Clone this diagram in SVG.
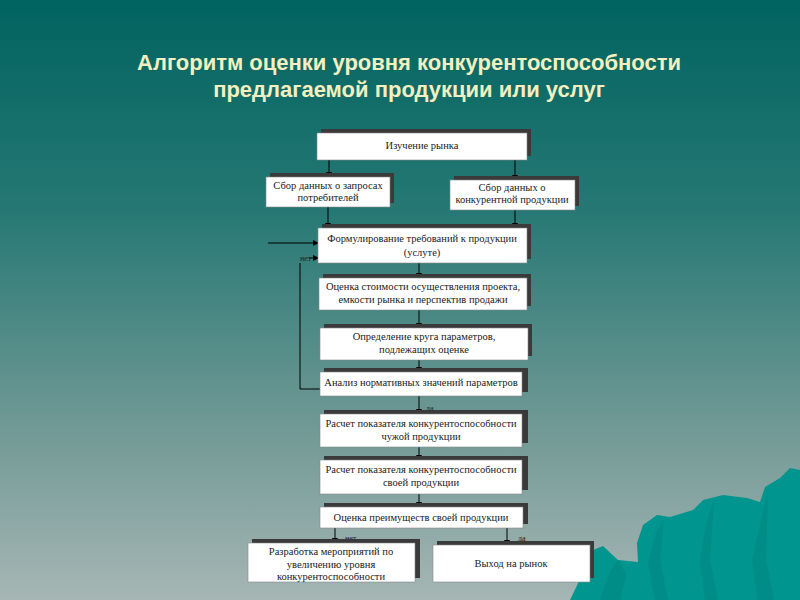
<svg xmlns="http://www.w3.org/2000/svg" width="800" height="600" viewBox="0 0 800 600">
<defs>
<linearGradient id="bg" x1="0" y1="0" x2="0" y2="1">
<stop offset="0" stop-color="#00635f"/>
<stop offset="0.35" stop-color="#267874"/>
<stop offset="0.7" stop-color="#6e9894"/>
<stop offset="1" stop-color="#a6b6b4"/>
</linearGradient>
<marker id="ah" markerWidth="6" markerHeight="6" refX="5" refY="3" orient="auto" markerUnits="userSpaceOnUse">
<path d="M0,0 L6,3 L0,6 Z" fill="#000"/>
</marker>
<style>
.sh{fill:#3a3a3a}
.bx{fill:#fff;stroke:#888;stroke-width:0.6}
.t{font-family:"Liberation Serif","Times New Roman",serif;font-size:10.5px;fill:#222;text-anchor:middle}
.ttl{font-family:"Liberation Sans",Arial,sans-serif;font-weight:bold;font-size:22px;fill:#f3efbf;text-anchor:middle}
.c{stroke:#000;stroke-width:1;fill:none}
.ca{stroke:#000;stroke-width:1;fill:none;marker-end:url(#ah)}
.lb{font-family:"Liberation Serif",serif;font-size:8px;fill:#222}
</style>
</defs>
<rect width="800" height="600" fill="url(#bg)"/>
<g id="mountain">
<path d="M570,600 L582,575 L593,550 L603,546 L618,560 L638,562 L637,543 L643,525 L657,515 L670,517 L693,510 L703,500 L723,495 L747,498 L760,502 L765,487 L780,478 L790,468 L800,470 L800,600 Z" fill="#00958f"/>
<path d="M600,600 L610,572 L618,560 L626,575 L620,600 Z M655,600 L648,565 L655,535 L664,518 L660,560 L668,600 Z M705,600 L700,560 L706,525 L714,500 L710,560 L718,600 Z M758,600 L752,560 L760,525 L768,490 L766,560 L774,600 Z" fill="#008a85" opacity="0.8"/>
</g>
<g id="title">
<text class="ttl" x="409" y="70">Алгоритм оценки уровня конкурентоспособности</text>
<text class="ttl" x="409" y="97">предлагаемой продукции или услуг</text>
</g>
<g id="connectors">
<line class="ca" x1="329" y1="160" x2="329" y2="177"/>
<line class="ca" x1="515" y1="160" x2="515" y2="180"/>
<line class="ca" x1="328" y1="207" x2="328" y2="228"/>
<line class="ca" x1="515" y1="210" x2="515" y2="228"/>
<line class="ca" x1="268" y1="243" x2="318" y2="243"/>
<polyline class="c" points="320,389 300,389 300,263"/>
<line class="ca" x1="309" y1="258" x2="318" y2="258"/>
<line class="ca" x1="419" y1="263" x2="419" y2="278"/>
<line class="ca" x1="419" y1="310" x2="419" y2="328"/>
<line class="ca" x1="419" y1="360" x2="419" y2="372"/>
<line class="ca" x1="419" y1="396" x2="419" y2="414"/>
<line class="ca" x1="419" y1="447" x2="419" y2="460"/>
<line class="ca" x1="419" y1="494" x2="419" y2="507"/>
<line class="ca" x1="335" y1="528" x2="335" y2="543"/>
<line class="ca" x1="507" y1="528" x2="507" y2="545"/>
<text class="lb" x="300" y="261">нет</text>
<text class="lb" x="426" y="411">да</text>
<text class="lb" x="345" y="541">нет</text>
<text class="lb" x="518" y="541">да</text>
</g>
<g id="n1"><rect class="sh" x="321" y="129" width="210" height="27"/><rect class="bx" x="317" y="133" width="210" height="27"/><text class="t" x="422" y="149">Изучение рынка</text></g>
<g id="n2"><rect class="sh" x="270" y="173" width="124" height="30"/><rect class="bx" x="266" y="177" width="124" height="30"/><text class="t" x="328" y="189">Сбор данных о запросах</text><text class="t" x="328" y="201">потребителей</text></g>
<g id="n3"><rect class="sh" x="454" y="176" width="125" height="30"/><rect class="bx" x="450" y="180" width="125" height="30"/><text class="t" x="512" y="191">Сбор данных о</text><text class="t" x="512" y="203">конкурентной продукции</text></g>
<g id="n4"><rect class="sh" x="322" y="224" width="209" height="35"/><rect class="bx" x="318" y="228" width="209" height="35"/><text class="t" x="422" y="242">Формулирование требований к продукции</text><text class="t" x="422" y="256">(услуте)</text></g>
<g id="n5"><rect class="sh" x="323" y="274" width="208" height="32"/><rect class="bx" x="319" y="278" width="208" height="32"/><text class="t" x="423" y="290">Оценка стоимости осуществления проекта,</text><text class="t" x="423" y="303">емкости рынка и перспектив продажи</text></g>
<g id="n6"><rect class="sh" x="324" y="324" width="208" height="32"/><rect class="bx" x="320" y="328" width="208" height="32"/><text class="t" x="424" y="340">Определение круга параметров,</text><text class="t" x="424" y="353">подлежащих оценке</text></g>
<g id="n7"><rect class="sh" x="324" y="368" width="204" height="24"/><rect class="bx" x="320" y="372" width="202" height="24"/><text class="t" x="421" y="386">Анализ нормативных значений параметров</text></g>
<g id="n8"><rect class="sh" x="324" y="410" width="204" height="33"/><rect class="bx" x="320" y="414" width="202" height="33"/><text class="t" x="421" y="427">Расчет показателя конкурентоспособности</text><text class="t" x="421" y="440">чужой продукции</text></g>
<g id="n9"><rect class="sh" x="324" y="456" width="204" height="34"/><rect class="bx" x="320" y="460" width="202" height="34"/><text class="t" x="421" y="473">Расчет показателя конкурентоспособности</text><text class="t" x="421" y="486">своей продукции</text></g>
<g id="n10"><rect class="sh" x="324" y="503" width="204" height="21"/><rect class="bx" x="320" y="507" width="203" height="21"/><text class="t" x="421" y="521">Оценка преимуществ своей продукции</text></g>
<g id="n11"><rect class="sh" x="252" y="539" width="168" height="39"/><rect class="bx" x="248" y="543" width="167" height="39"/><text class="t" x="331" y="555">Разработка мероприятий по</text><text class="t" x="331" y="568">увеличению уровня</text><text class="t" x="331" y="580">конкурентоспособности</text></g>
<g id="n12"><rect class="sh" x="437" y="541" width="157" height="37"/><rect class="bx" x="433" y="545" width="157" height="37"/><text class="t" x="511" y="567">Выход на рынок</text></g>
</svg>
